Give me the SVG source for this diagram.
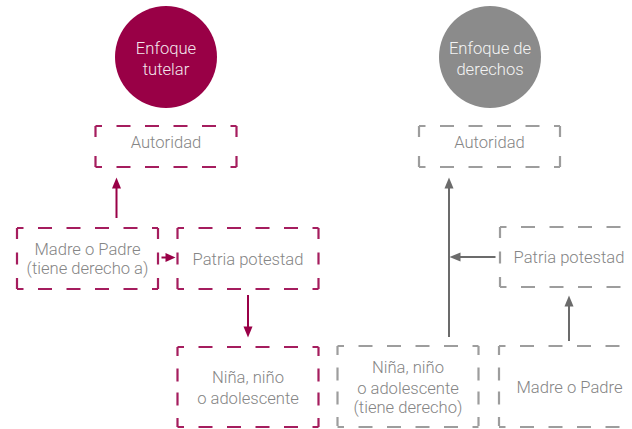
<svg xmlns="http://www.w3.org/2000/svg" width="632" height="429" viewBox="0 0 632 429">
<defs>
<style>
.bg{fill:#ffffff}
.txt{font-family:Roboto,"Liberation Sans",sans-serif;font-weight:300;font-size:16.6px;text-anchor:middle}
.box-t{fill:#858585}
.c-t{fill:#f3e6ec}
.c-g{fill:#f4f4f4}
.e{fill:none;stroke-width:2.2}
.m{stroke:#a51d5e}
.g{stroke:#9d9d9d}
.hz{stroke-dasharray:14 14.5;stroke-dashoffset:7.5}
.v41{stroke-dasharray:11 19 11 100}
.v60{stroke-dasharray:11 13.5 12 13.5 11 100}
.v80{stroke-dasharray:9 12.5 13 11 13 12.5 9 100}
.am{stroke:#990047;stroke-width:2;fill:none}
.ag{stroke:#6b6b6b;stroke-width:2;fill:none}
.hm{fill:#990047}
.hg{fill:#6b6b6b}
</style>
</defs>
<rect class="bg" x="0" y="0" width="632" height="429"/>

<g id="tutelar">
<circle cx="166" cy="57" r="51" fill="#990046"/>
<text class="txt c-t" x="166" y="54">Enfoque</text>
<text class="txt c-t" x="166" y="75">tutelar</text>
</g>

<g id="derechos">
<circle cx="490" cy="57" r="51" fill="#8b8b8b"/>
<text class="txt c-g" x="490" y="54">Enfoque de</text>
<text class="txt c-g" x="490" y="75">derechos</text>
</g>

<g id="autoridad-l">
<path class="e m hz" d="M95.5 126H236.5M95.5 167H236.5"/>
<path class="e m v41" d="M95.5 126V167M236.5 126V167"/>
<text class="txt box-t" x="166" y="148">Autoridad</text>
</g>

<g id="madre-l">
<path class="e m hz" d="M17 228H158M17 289H158"/>
<path class="e m v60" d="M17 228V289M158 228V289"/>
<text class="txt box-t" x="87.5" y="255">Madre o Padre</text>
<text class="txt box-t" x="87.5" y="274">(tiene derecho a)</text>
</g>

<g id="patria-l">
<path class="e m hz" d="M177.5 228H318.5M177.5 289H318.5"/>
<path class="e m v60" d="M177.5 228V289M318.5 228V289"/>
<text class="txt box-t" x="248" y="265">Patria potestad</text>
</g>

<g id="nina-l">
<path class="e m hz" d="M177.5 347H318.5M177.5 427H318.5"/>
<path class="e m v80" d="M177.5 347V427M318.5 347V427"/>
<text class="txt box-t" x="248" y="383">Niña, niño</text>
<text class="txt box-t" x="248" y="404">o adolescente</text>
</g>

<g id="autoridad-r">
<path class="e g hz" d="M419 126H560M419 167H560"/>
<path class="e g v41" d="M419 126V167M560 126V167"/>
<text class="txt box-t" x="489.5" y="148">Autoridad</text>
</g>

<g id="patria-r">
<path class="e g hz" d="M500 227H641M500 287H641"/>
<path class="e g v60" d="M500 227V287M641 227V287"/>
<text class="txt box-t" x="569" y="263">Patria potestad</text>
</g>

<g id="nina-r">
<path class="e g hz" d="M337.5 346H478.5M337.5 427H478.5"/>
<path class="e g v80" d="M337.5 346V427M478.5 346V427"/>
<text class="txt box-t" x="408" y="373">Niña, niño</text>
<text class="txt box-t" x="408" y="394">o adolescente</text>
<text class="txt box-t" x="408" y="413">(tiene derecho)</text>
</g>

<g id="madre-r">
<path class="e g hz" d="M499 346H640M499 427H640"/>
<path class="e g v80" d="M499 346V427M640 346V427"/>
<text class="txt box-t" x="569.5" y="393">Madre o Padre</text>
</g>

<g id="connectors">
<path class="am" d="M116.5 218V187"/>
<path class="hm" d="M116.5 177.5L121 188.5H112Z"/>
<path class="am" d="M161.5 257.5H167"/>
<path class="hm" d="M175.5 257.5L165.5 253V262Z"/>
<path class="am" d="M248 295V328"/>
<path class="hm" d="M248 337.5L243.5 326.5H252.5Z"/>
<path class="ag" d="M449 337V187"/>
<path class="hg" d="M449 177.5L453.5 188.5H444.5Z"/>
<path class="ag" d="M495.5 257H459"/>
<path class="hg" d="M449.5 257L460.5 252.5V261.5Z"/>
<path class="ag" d="M569 341V305"/>
<path class="hg" d="M569 295.5L573.5 306.5H564.5Z"/>
</g>
</svg>
